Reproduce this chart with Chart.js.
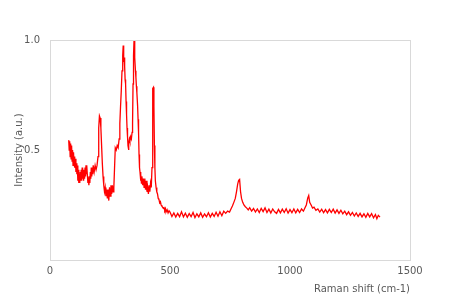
<!DOCTYPE html>
<html>
<head>
<meta charset="utf-8">
<script src="https://cdn.jsdelivr.net/npm/chart.js@4/dist/chart.umd.min.js"></script>
<style>
    body { margin: 0; background: #fff; }
    #chart { display: block; }
</style>
</head>
<body>
<canvas id="chart" width="450" height="300"></canvas>
<script>
// Spectrum (Raman shift in cm-1, intensity in a.u.)
const ramanShift = [
    78, 80, 82, 84, 86, 88, 90, 92, 94, 96,
    98, 100, 102, 104, 106, 108, 110, 112, 114, 116,
    118, 120, 122, 124, 126, 128, 130, 132, 134, 136,
    138, 140, 142, 144, 146, 148, 150, 152, 154, 156,
    158, 160, 162, 164, 166, 168, 170, 172, 174, 176,
    178, 180, 184, 188, 192, 196, 200, 203, 206, 209,
    212, 215, 218, 221, 224, 227, 230, 233, 236, 239,
    242, 245, 248, 251, 254, 257, 260, 263, 266, 269,
    272, 276, 280, 284, 288, 291, 294, 297, 300, 303,
    305, 307, 309, 311, 313, 315, 317, 319, 321, 323,
    325, 327, 329, 331, 333, 336, 339, 342, 344, 346,
    348, 350, 352, 354, 356, 358, 360, 362, 365, 367,
    369, 371, 373, 375, 377, 379, 381, 383, 386, 389,
    392, 395, 398, 401, 404, 407, 410, 413, 416, 419,
    422, 425, 427, 429, 431, 433, 435, 437, 439, 442,
    445, 448, 451, 454, 457, 460, 463, 466, 469, 472,
    475, 478, 481, 484, 488, 492, 496,
    500, 508, 516, 524, 532, 540, 548, 556, 564, 572,
    580, 588, 596, 604, 612, 620, 628, 636, 644, 652,
    660, 668, 676, 684, 692, 700, 708, 716, 724,
    732, 740, 748, 754, 760, 766, 772, 777, 782, 786,
    790, 794, 798, 803, 808, 814, 820, 826, 832, 840,
    848, 856, 864, 872, 880, 888, 896, 904, 912, 920,
    928, 936, 944, 952, 960, 968, 976, 984, 992, 1000,
    1008, 1016, 1024, 1032, 1040, 1048, 1056, 1062, 1068, 1074,
    1078, 1082, 1088, 1094, 1100, 1108, 1116, 1124, 1132, 1140,
    1148, 1156, 1164, 1172, 1180, 1188, 1196, 1204, 1212, 1220,
    1228, 1236, 1244, 1252, 1260, 1268, 1276, 1284, 1292, 1300,
    1308, 1316, 1324, 1332, 1340, 1348, 1356, 1362, 1368, 1375
];

const intensity = [
    0.545, 0.50, 0.54, 0.47, 0.53, 0.46, 0.52, 0.45, 0.50, 0.43,
    0.49, 0.44, 0.47, 0.42, 0.46, 0.40, 0.44, 0.39, 0.43, 0.36,
    0.41, 0.35, 0.39, 0.35, 0.40, 0.36, 0.41, 0.36, 0.42, 0.37,
    0.41, 0.36, 0.40, 0.37, 0.42, 0.38, 0.43, 0.39, 0.43, 0.38,
    0.35, 0.37, 0.34, 0.38, 0.35, 0.40, 0.37, 0.42, 0.38, 0.42,
    0.39, 0.43, 0.40, 0.43, 0.41, 0.43, 0.47, 0.60, 0.655, 0.645,
    0.60, 0.52, 0.44, 0.38, 0.34, 0.31, 0.33, 0.29, 0.32, 0.28,
    0.32, 0.27, 0.33, 0.29, 0.34, 0.30, 0.34, 0.31, 0.33, 0.42,
    0.51, 0.50, 0.52, 0.51, 0.55, 0.62, 0.70, 0.77, 0.86, 0.93,
    0.975, 0.90, 0.92, 0.88, 0.82, 0.80, 0.72, 0.66, 0.60, 0.56,
    0.52, 0.50, 0.53, 0.55, 0.54, 0.56, 0.55, 0.58, 0.62, 0.80,
    0.93, 0.995, 0.97, 0.92, 0.86, 0.83, 0.79, 0.76, 0.70, 0.64,
    0.58, 0.48, 0.42, 0.40, 0.36, 0.39, 0.35, 0.38, 0.34, 0.37,
    0.33, 0.37, 0.32, 0.36, 0.31, 0.33, 0.30, 0.34, 0.31, 0.35,
    0.33, 0.42, 0.60, 0.78, 0.785, 0.70, 0.52, 0.42, 0.36, 0.33,
    0.31, 0.30, 0.28, 0.275, 0.26, 0.265, 0.25, 0.245, 0.24, 0.235,
    0.238, 0.226, 0.234, 0.219, 0.228, 0.214, 0.224,
    0.218, 0.198, 0.214, 0.195, 0.212, 0.197, 0.219, 0.196, 0.213, 0.194,
    0.211, 0.197, 0.216, 0.193, 0.210, 0.196, 0.214, 0.194, 0.209, 0.197,
    0.215, 0.195, 0.212, 0.198, 0.217, 0.199, 0.219, 0.201, 0.222,
    0.212, 0.222, 0.218, 0.232, 0.245, 0.262, 0.280, 0.310, 0.345, 0.362,
    0.366, 0.310, 0.280, 0.262, 0.250, 0.242, 0.236, 0.228, 0.238, 0.222,
    0.234, 0.218, 0.232, 0.216, 0.235, 0.220, 0.237, 0.216, 0.231, 0.214,
    0.232, 0.219, 0.212, 0.230, 0.214, 0.231, 0.216, 0.233, 0.213, 0.229,
    0.215, 0.232, 0.214, 0.230, 0.216, 0.232, 0.222, 0.236, 0.250, 0.282,
    0.293, 0.262, 0.250, 0.236, 0.240, 0.226, 0.232, 0.218, 0.231, 0.215,
    0.229, 0.214, 0.230, 0.216, 0.231, 0.213, 0.228, 0.212, 0.226, 0.210,
    0.222, 0.206, 0.219, 0.203, 0.216, 0.200, 0.214, 0.198, 0.212, 0.196,
    0.210, 0.194, 0.212, 0.196, 0.211, 0.192, 0.207, 0.188, 0.203, 0.195
];

const xTickStep = 500;
const yTickStep = 0.5;

// Light grey frame around the plot area
const frameBox = {
    id: 'frameBox',
    beforeDatasetsDraw(chart) {
        const a = chart.chartArea;
        const c = chart.ctx;
        c.save();
        c.strokeStyle = '#d9d9d9';
        c.lineWidth = 1;
        c.strokeRect(a.left + 0.5, a.top + 0.5, a.right - a.left, a.bottom - a.top);
        c.restore();
    }
};

const points = ramanShift.map((x, i) => ({ x: x, y: intensity[i] }));

Chart.defaults.font.family = '"DejaVu Sans", sans-serif';
Chart.defaults.font.size = 10;
Chart.defaults.color = '#595959';

new Chart(document.getElementById('chart').getContext('2d'), {
    type: 'scatter',
    data: {
        datasets: [{
            data: points,
            showLine: true,
            borderColor: '#ff0000',
            backgroundColor: '#ff0000',
            borderWidth: 1.3,
            pointRadius: 0,
            tension: 0
        }]
    },
    options: {
        responsive: false,
        animation: false,
        layout: { padding: { left: 0, right: 40, top: 40, bottom: 0 } },
        plugins: {
            legend: { display: false },
            tooltip: { enabled: false }
        },
        scales: {
            x: {
                type: 'linear',
                min: 0,
                max: 1500,
                grid: { display: false, drawTicks: false },
                border: { display: false },
                ticks: { stepSize: xTickStep, padding: 5, maxRotation: 0, callback: v => String(v) },
                title: {
                    display: true,
                    text: 'Raman shift (cm-1)',
                    align: 'end',
                    padding: { top: 0, bottom: 5 }
                },
                afterFit: s => { s.height = 40; }
            },
            y: {
                type: 'linear',
                min: 0,
                max: 1,
                grid: { display: false, drawTicks: false },
                border: { display: false },
                ticks: {
                    stepSize: yTickStep,
                    padding: 10,
                    callback: v => v === 0 ? '' : v.toFixed(1)
                },
                title: {
                    display: true,
                    text: 'Intensity (a.u.)',
                    padding: { top: 13, bottom: 0 }
                },
                afterFit: s => { s.width = 50; }
            }
        }
    },
    plugins: [frameBox]
});
</script>
</body>
</html>
